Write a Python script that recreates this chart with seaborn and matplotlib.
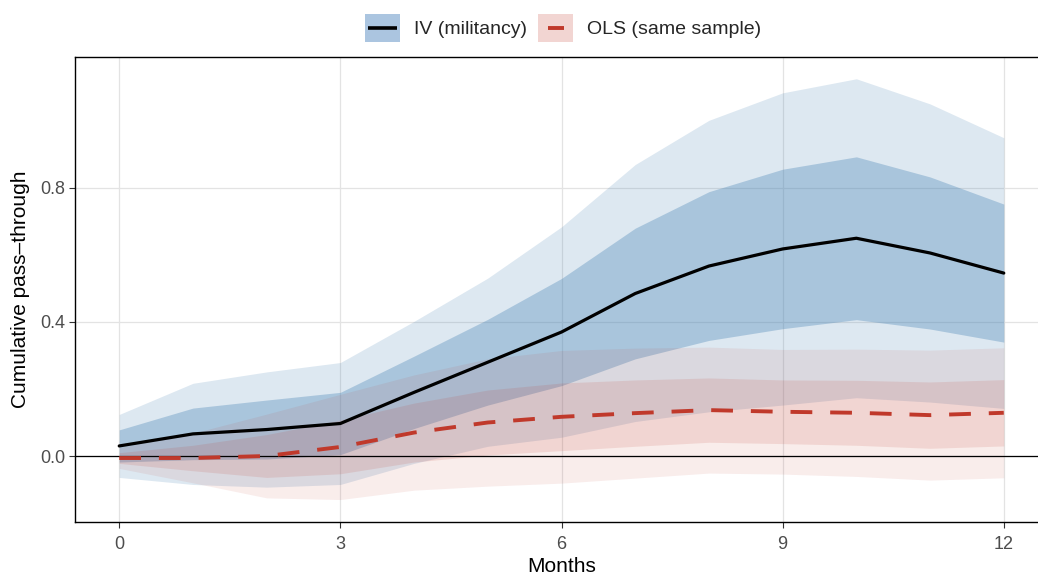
import numpy as np
import pandas as pd
import matplotlib
matplotlib.use("Agg")
import matplotlib.pyplot as plt
import seaborn as sns
from matplotlib.legend_handler import HandlerBase
from matplotlib.patches import Rectangle
from matplotlib.lines import Line2D

# ---------------- data ----------------
months = list(range(13))

iv_est  = [0.030, 0.066, 0.079, 0.097, 0.190, 0.280, 0.370, 0.485, 0.567, 0.618, 0.650, 0.606, 0.546]
iv_lo68 = [-0.018, -0.011, -0.009, 0.004, 0.082, 0.152, 0.210, 0.290, 0.345, 0.380, 0.407, 0.379, 0.340]
iv_hi68 = [0.078, 0.143, 0.167, 0.190, 0.298, 0.408, 0.530, 0.680, 0.789, 0.856, 0.893, 0.833, 0.752]
iv_lo95 = [-0.064, -0.085, -0.093, -0.085, -0.022, 0.029, 0.056, 0.103, 0.132, 0.152, 0.174, 0.161, 0.142]
iv_hi95 = [0.124, 0.217, 0.251, 0.279, 0.402, 0.531, 0.684, 0.870, 1.002, 1.084, 1.126, 1.051, 0.950]

ols_est  = [-0.006, -0.006, 0.000, 0.027, 0.070, 0.100, 0.117, 0.128, 0.137, 0.132, 0.129, 0.122, 0.129]
ols_lo68 = [-0.022, -0.044, -0.064, -0.053, -0.018, 0.003, 0.016, 0.029, 0.041, 0.037, 0.032, 0.023, 0.030]
ols_hi68 = [0.010, 0.032, 0.064, 0.107, 0.158, 0.197, 0.218, 0.227, 0.233, 0.227, 0.226, 0.221, 0.228]
ols_lo95 = [-0.037, -0.080, -0.125, -0.130, -0.102, -0.090, -0.081, -0.066, -0.051, -0.054, -0.061, -0.072, -0.065]
ols_hi95 = [0.025, 0.068, 0.125, 0.184, 0.242, 0.290, 0.315, 0.322, 0.325, 0.318, 0.319, 0.316, 0.323]

series_labels = ["IV (militancy)", "OLS (same sample)"]
x_ticks = [0, 3, 6, 9, 12]
y_ticks = [0.0, 0.4, 0.8]
y_tick_labels = ["0.0", "0.4", "0.8"]

# ---------------- styling ----------------
sns.set_theme(style="white")
plt.rcParams["font.family"] = ["Liberation Sans", "DejaVu Sans"]

IV_FILL = "#4682b4"
OLS_FILL = "#c0392b"
OLS_LINE = "#c0392b"

fig = plt.figure(figsize=(10.38, 5.76), dpi=100)
ax = fig.add_axes([75 / 1038, 54 / 576, (1048 - 75) / 1038, (522 - 57) / 576])

df_iv = pd.DataFrame({"month": months, "est": iv_est})
df_ols = pd.DataFrame({"month": months, "est": ols_est})

# bands
ax.fill_between(months, iv_lo95, iv_hi95, color=IV_FILL, alpha=0.18, linewidth=0, zorder=1)
ax.fill_between(months, iv_lo68, iv_hi68, color=IV_FILL, alpha=0.34, linewidth=0, zorder=1.1)
ax.fill_between(months, ols_lo95, ols_hi95, color=OLS_FILL, alpha=0.09, linewidth=0, zorder=1.2)
ax.fill_between(months, ols_lo68, ols_hi68, color=OLS_FILL, alpha=0.13, linewidth=0, zorder=1.3)

ax.axhline(0, color="black", lw=0.9, zorder=1.5)

sns.lineplot(data=df_iv, x="month", y="est", ax=ax, color="black", lw=2.3,
             legend=False, zorder=3)
sns.lineplot(data=df_ols, x="month", y="est", ax=ax, color=OLS_LINE, lw=2.8,
             legend=False, zorder=3.1)
ols_line = ax.lines[-1]
ols_line.set_dashes([5.6, 4.6])
ols_line.set_dash_capstyle("butt")

ax.set_xlim(-0.6, 12.6)
ax.set_ylim(-0.197, 1.191)
ax.set_xticks(x_ticks)
ax.set_xticklabels([str(t) for t in x_ticks])
ax.set_yticks(y_ticks)
ax.set_yticklabels(y_tick_labels)
ax.grid(True, color="#e3e3e3", lw=0.9, zorder=0)
ax.set_axisbelow(True)
for s in ax.spines.values():
    s.set_color("black")
    s.set_linewidth(1.0)
    s.set_visible(True)
ax.tick_params(axis="both", which="major", length=4, width=0.8, color="#333333",
               labelcolor="#4d4d4d", labelsize=13, direction="out",
               bottom=True, left=True)
ax.tick_params(axis="x", pad=6)
ax.tick_params(axis="y", pad=3)
ax.set_xlabel("Months", fontsize=15, color="black", labelpad=3)
ax.set_ylabel("Cumulative pass\u2013through", fontsize=15, color="black", labelpad=7)


class BoxLine(HandlerBase):
    def __init__(self, fill, color, lw, frac):
        super().__init__()
        self.fill, self.color, self.lw, self.frac = fill, color, lw, frac

    def create_artists(self, legend, orig_handle, xdescent, ydescent, width,
                       height, fontsize, trans):
        x0, y0 = -xdescent, -ydescent
        r = Rectangle((x0, y0), width, height, facecolor=self.fill,
                      edgecolor="none", transform=trans)
        cx = x0 + width / 2
        half = width * self.frac / 2
        ln = Line2D([cx - half, cx + half], [y0 + height / 2] * 2,
                    color=self.color, lw=self.lw, transform=trans,
                    solid_capstyle="butt")
        return [r, ln]


h1 = Line2D([], [])
h2 = Line2D([], [])
leg = fig.legend([h1, h2], series_labels, loc="center",
                 bbox_to_anchor=(563 / 1038, 1 - 28 / 576), ncol=2,
                 frameon=True, fancybox=False, framealpha=1,
                 handler_map={h1: BoxLine("#abc5e0", "black", 2.6, 0.85),
                              h2: BoxLine("#f2d5d2", OLS_LINE, 2.8, 0.45)},
                 handlelength=1.8, handleheight=1.8, handletextpad=0.7,
                 columnspacing=0.6, fontsize=14, borderpad=0.4)
leg.get_frame().set_edgecolor("none")
leg.get_frame().set_facecolor("white")

fig.savefig("out.png", dpi=100)
